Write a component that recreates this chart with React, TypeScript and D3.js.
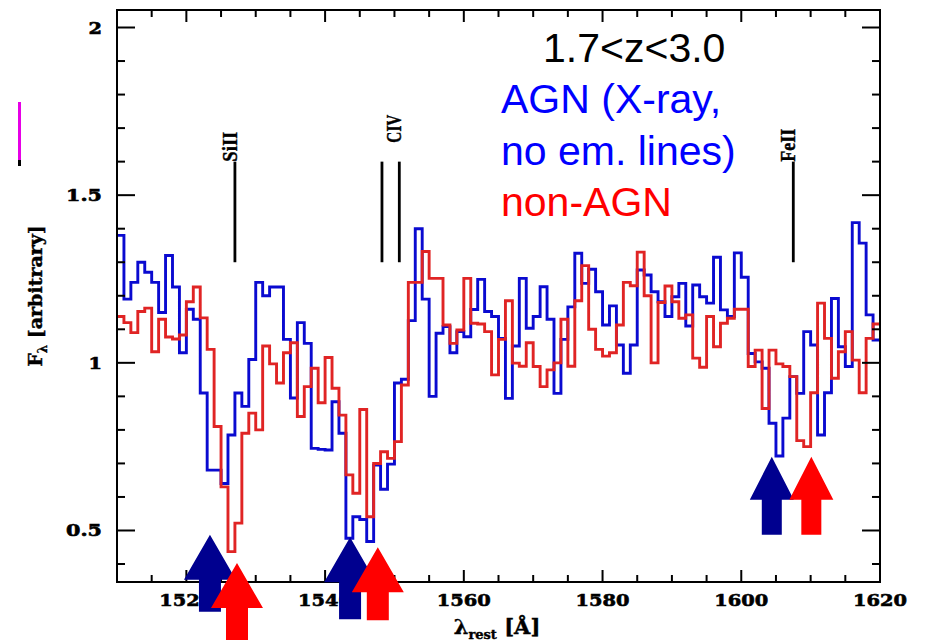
import React from "react";
import * as d3 from "d3";

// ---------- data ----------
const LAMBDA_START = 1510; // first bin edge (Å), bins are 1 Å wide
const agnFlux = [
  1.38, 1.19, 1.24, 1.30, 1.27, 1.24, 1.15, 1.32, 1.226, 1.03,
  1.16, 1.13, 0.91, 0.68, 0.68, 0.64, 0.785, 0.91, 0.87, 1.01,
  1.24, 1.20, 1.226, 1.226, 1.07, 0.895, 1.12, 1.058, 0.745, 0.742,
  0.74, 0.884, 0.79, 0.477, 0.541, 0.533, 0.467, 0.695, 0.623, 0.698,
  0.94, 0.951, 1.126, 1.40, 1.19, 0.90, 1.088, 1.108, 1.03, 1.093,
  1.078, 1.159, 1.249, 1.153, 1.138, 1.073, 0.894, 1.05, 1.252, 1.103,
  1.138, 1.227, 1.13, 0.909, 1.07, 1.167, 1.327, 1.237, 1.279, 1.212,
  1.113, 1.17, 1.053, 0.969, 1.053, 1.277, 1.262, 1.212, 1.182, 1.138,
  1.197, 1.237, 1.11, 1.232, 1.197, 1.178, 1.315, 1.158, 1.138, 1.328,
  1.255, 1.028, 1.003, 0.984, 0.82, 0.722, 0.835, 0.959, 0.909, 1.093,
  1.053, 0.785, 0.911, 1.192, 1.048, 0.989, 1.418, 1.357, 1.143, 1.068,
];
const nonAgnFlux = [
  1.138, 1.12, 1.09, 1.153, 1.163, 1.033, 1.13, 1.077, 1.071, 1.083,
  1.182, 1.226, 1.134, 1.04, 0.81, 0.63, 0.437, 0.522, 0.79, 0.85,
  0.80, 1.05, 0.997, 0.94, 1.03, 1.06, 0.84, 0.929, 0.984, 0.881,
  1.016, 0.924, 0.844, 0.666, 0.611, 0.861, 0.541, 0.70, 0.735, 0.715,
  0.765, 0.934, 1.24, 1.24, 1.332, 1.252, 1.252, 1.113, 1.058, 1.098,
  1.252, 1.118, 1.116, 1.093, 0.964, 1.07, 1.185, 0.999, 0.99, 1.06,
  0.989, 0.929, 0.979, 1.0, 1.13, 0.99, 1.185, 1.29, 1.10, 1.04,
  1.02, 1.03, 1.113, 1.24, 1.23, 1.33, 1.20, 1.0, 1.18, 1.229,
  1.182, 1.133, 1.143, 1.014, 0.987, 1.138, 1.048, 1.118, 1.133, 1.16,
  1.16, 0.989, 1.038, 0.864, 1.038, 0.997, 0.989, 0.959, 0.768, 0.75,
  0.911, 1.178, 1.073, 0.954, 1.033, 1.093, 1.008, 0.911, 1.073, 1.116,
];
const xMajorTicks = [1520, 1540, 1560, 1580, 1600, 1620];
const xTickLabels = ["1520", "1540", "1560", "1580", "1600", "1620"];
const yMajorTicks = [0.5, 1, 1.5, 2];
const yTickLabels = ["0.5", "1", "1.5", "2"];
const lineIds = ["SiII", "CIV", "FeII"];
const lineWaves = [[1527], [1548.2, 1550.7], [1607.5]];
const lineTop = 1.6;
const lineBottom = 1.3;
const arrowWaves = [1523.4, 1527.3, 1543.6, 1547.6, 1604.4, 1610.1];
const arrowTips = [0.487, 0.403, 0.48, 0.45, 0.72, 0.72];
const arrowKinds = ["agn", "non", "agn", "non", "agn", "non"];
const legendLines = ["1.7<z<3.0", "AGN (X-ray,", "no em. lines)", "non-AGN"];

// ---------- styles ----------
const W = 925, H = 643;
const L = 117, R = 880, T = 10, B = 582;
const BLUE_LINE = "#0a0ad0";
const RED_LINE = "#e02424";
const BLUE_ARROW = "#00008f";
const RED_ARROW = "#ff0000";
const AXIS_FONT = "'DejaVu Serif', serif";
const LABEL_FONT = "'Liberation Serif', serif";

const labelLen = (s: string) => {
  let w = 0;
  for (const c of s) w += c === "." ? 9 : 13.5;
  return w;
};

export default function App() {
  const x = d3.scaleLinear().domain([1510, 1620]).range([L, R]);
  const y = d3.scaleLinear().domain([0.3464, 2.0522]).range([B, T]);

  const stepLine = d3
    .line<[number, number]>()
    .x((d) => x(d[0]))
    .y((d) => y(d[1]))
    .curve(d3.curveStepAfter);

  const toPts = (arr: number[]): [number, number][] => {
    const pts: [number, number][] = arr.map((v, i) => [LAMBDA_START + i, v]);
    pts.push([LAMBDA_START + arr.length, arr[arr.length - 1]]);
    return pts;
  };

  const xMinor = d3.range(1510, 1621, 5).filter((v) => v % 20 !== 0);
  const yMinor = d3
    .range(4, 21, 1)
    .map((v) => v / 10)
    .filter((v) => Math.abs(v * 2 - Math.round(v * 2)) > 1e-6);

  const arrowShape = (i: number) => {
    const big = i < 4;
    const tx = x(arrowWaves[i]);
    const ty = y(arrowTips[i]);
    const headH = big ? 45 : 43;
    const headW = big ? 26 : 22;
    const shaftW = big ? 11 : 10;
    const shaftL = big ? (i === 2 ? 37 : i === 3 ? 28 : 32) : 35;
    const hb = ty + headH;
    const p = [
      [tx, ty],
      [tx + headW, hb],
      [tx + shaftW, hb],
      [tx + shaftW, hb + shaftL],
      [tx - shaftW, hb + shaftL],
      [tx - shaftW, hb],
      [tx - headW, hb],
    ];
    return "M" + p.map((q) => q.join(",")).join("L") + "Z";
  };

  const lineLabelLen: Record<string, number> = { SiII: 30, CIV: 28, FeII: 33 };

  return (
    <svg
      width={W}
      height={H}
      style={{ position: "absolute", left: 0, top: 0, background: "#fff" }}
    >
      <rect x={0} y={0} width={W} height={H} fill="#fff" />

      {/* magenta mark */}
      <rect x={18} y={102} width={3} height={58} fill="#e600e6" />
      <rect x={18} y={160} width={3} height={6} fill="#000" />

      {/* spectra */}
      <path d={stepLine(toPts(agnFlux)) || ""} fill="none" stroke={BLUE_LINE} strokeWidth={2.9} />
      <path d={stepLine(toPts(nonAgnFlux)) || ""} fill="none" stroke={RED_LINE} strokeWidth={2.9} />

      {/* frame */}
      <rect x={L} y={T} width={R - L} height={B - T} fill="none" stroke="#000" strokeWidth={2} />

      {/* x ticks */}
      {xMajorTicks.map((v) => (
        <g key={"xM" + v}>
          <line x1={x(v)} x2={x(v)} y1={B} y2={B - 12} stroke="#000" strokeWidth={2} />
          <line x1={x(v)} x2={x(v)} y1={T} y2={T + 12} stroke="#000" strokeWidth={2} />
        </g>
      ))}
      {xMinor.map((v) => (
        <g key={"xm" + v}>
          <line x1={x(v)} x2={x(v)} y1={B} y2={B - 7} stroke="#000" strokeWidth={2} />
          <line x1={x(v)} x2={x(v)} y1={T} y2={T + 7} stroke="#000" strokeWidth={2} />
        </g>
      ))}
      {/* y ticks */}
      {yMajorTicks.map((v) => (
        <g key={"yM" + v}>
          <line x1={L} x2={L + 18} y1={y(v)} y2={y(v)} stroke="#000" strokeWidth={2} />
          <line x1={R} x2={R - 18} y1={y(v)} y2={y(v)} stroke="#000" strokeWidth={2} />
        </g>
      ))}
      {yMinor.map((v) => (
        <g key={"ym" + v}>
          <line x1={L} x2={L + 8} y1={y(v)} y2={y(v)} stroke="#000" strokeWidth={2} />
          <line x1={R} x2={R - 8} y1={y(v)} y2={y(v)} stroke="#000" strokeWidth={2} />
        </g>
      ))}

      {/* tick labels */}
      {xMajorTicks.map((v, i) => (
        <text
          key={"xl" + v}
          x={x(v)}
          y={606}
          textAnchor="middle"
          fontFamily={AXIS_FONT}
          fontWeight="bold"
          fontSize={17}
          stroke="#000"
          strokeWidth={0.6}
          textLength={labelLen(xTickLabels[i])}
          lengthAdjust="spacingAndGlyphs"
        >
          {xTickLabels[i]}
        </text>
      ))}
      {yMajorTicks.map((v, i) => (
        <text
          key={"yl" + v}
          x={102}
          y={y(v) + 6}
          textAnchor="end"
          fontFamily={AXIS_FONT}
          fontWeight="bold"
          fontSize={17}
          stroke="#000"
          strokeWidth={0.6}
          textLength={labelLen(yTickLabels[i])}
          lengthAdjust="spacingAndGlyphs"
        >
          {yTickLabels[i]}
        </text>
      ))}

      {/* axis titles */}
      <text
        transform={`translate(42, ${296}) rotate(-90)`}
        textAnchor="middle"
        fontFamily={AXIS_FONT}
        fontWeight="bold"
        fontSize={19}
        stroke="#000"
        strokeWidth={0.4}
      >
        F<tspan fontSize={12} dy={5}>λ</tspan>
        <tspan dy={-5}> [arbitrary]</tspan>
      </text>
      <text
        x={497}
        y={634}
        textAnchor="middle"
        fontFamily={AXIS_FONT}
        fontWeight="bold"
        fontSize={21}
        stroke="#000"
        strokeWidth={0.4}
      >
        λ<tspan fontSize={13} dy={5}>rest</tspan>
        <tspan dy={-5}> [Å]</tspan>
      </text>

      {/* line markers */}
      {lineWaves.map((ws, i) => (
        <g key={"lm" + i}>
          {ws.map((w) => (
            <line
              key={w}
              x1={x(w)}
              x2={x(w)}
              y1={y(lineTop)}
              y2={y(lineBottom)}
              stroke="#000"
              strokeWidth={2.8}
            />
          ))}
          <text
            transform={`translate(${x(ws[ws.length - 1]) + 2}, ${
              y(lineTop) - (lineIds[i] === "CIV" ? 19 : 0)
            }) rotate(-90)`}
            fontFamily={LABEL_FONT}
            fontWeight="bold"
            fontSize={20}
            stroke="#000"
            strokeWidth={0.4}
            textLength={lineLabelLen[lineIds[i]]}
            lengthAdjust="spacingAndGlyphs"
          >
            {lineIds[i]}
          </text>
        </g>
      ))}

      {/* annotations */}
      <text x={543} y={62} fontFamily="'Liberation Sans', Arial, sans-serif" fontSize={41} fill="#000">
        {legendLines[0]}
      </text>
      <text x={501} y={113} fontFamily="'Liberation Sans', Arial, sans-serif" fontSize={41} fill="#0000ff">
        {legendLines[1]}
      </text>
      <text x={501} y={165} fontFamily="'Liberation Sans', Arial, sans-serif" fontSize={41} fill="#0000ff">
        {legendLines[2]}
      </text>
      <text x={501} y={216} fontFamily="'Liberation Sans', Arial, sans-serif" fontSize={41} fill="#ff0000">
        {legendLines[3]}
      </text>

      {/* arrows */}
      {arrowWaves.map((_, i) => (
        <path key={"ar" + i} d={arrowShape(i)} fill={arrowKinds[i] === "agn" ? BLUE_ARROW : RED_ARROW} />
      ))}
    </svg>
  );
}
